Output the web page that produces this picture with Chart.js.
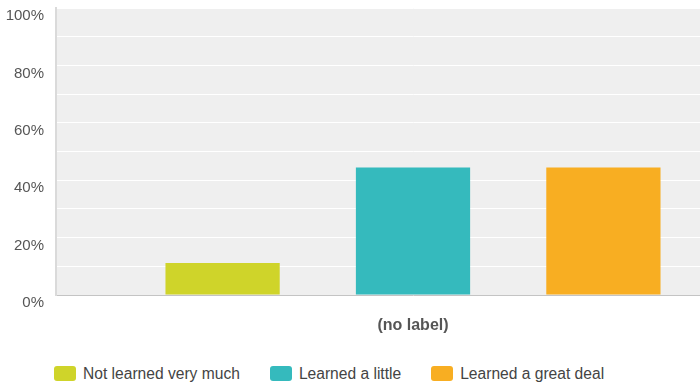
<!DOCTYPE html>
<html>
<head>
<meta charset="utf-8">
<script src="https://cdn.jsdelivr.net/npm/chart.js@4"></script>
<style>
  body { margin: 0; background: #fff; }
  #wrap { position: relative; width: 700px; height: 384px; overflow: hidden; }
  #chart { position: absolute; left: 0; top: 0; }
  #legend { position: absolute; left: 54px; top: 366px; display: flex; font: 15.6px "Liberation Sans", Arial, sans-serif; color: #444; }
  #legend .item { display: flex; align-items: center; margin-right: 30px; height: 15px; }
  #legend .box { width: 22px; height: 15px; border-radius: 3px; margin-right: 7px; }
</style>
</head>
<body>
<div id="wrap">
  <canvas id="chart"></canvas>
  <div id="legend"></div>
</div>
<script>
var categories = ["(no label)"];
var seriesNames = ["Not learned very much", "Learned a little", "Learned a great deal"];
var seriesValues = [[11.11], [44.44], [44.44]];
var seriesColors = ["#cfd42a", "#35babd", "#f8ae22"];
var yTicks = [0, 20, 40, 60, 80, 100];

// plot area background
var plotBackground = {
    id: 'plotBackground',
    beforeDraw: function(chart) {
        var ctx = chart.ctx;
        var a = chart.chartArea;
        ctx.save();
        ctx.fillStyle = '#efefef';
        ctx.fillRect(a.left, a.top, a.right - a.left, a.bottom - a.top);
        ctx.restore();
    }
};

var datasets = seriesNames.map(function(name, i) {
    return {
        label: name,
        data: seriesValues[i],
        backgroundColor: seriesColors[i],
        borderWidth: 0,
        categoryPercentage: 0.8,
        barPercentage: 0.6
    };
});

var canvas = document.getElementById('chart');
canvas.width = 770;
canvas.height = 345;
canvas.style.width = '770px';
canvas.style.height = '345px';

var myChart = new Chart(canvas.getContext('2d'), {
    type: 'bar',
    data: {
        labels: categories,
        datasets: datasets
    },
    options: {
        responsive: false,
        animation: false,
        layout: { padding: { top: 8, left: 0, right: 0, bottom: 0 } },
        plugins: {
            legend: { display: false },
            tooltip: { enabled: false }
        },
        scales: {
            x: {
                grid: { display: false },
                border: { color: '#c4c4c4', width: 1 },
                ticks: {
                    color: '#555',
                    padding: 13,
                    font: { family: 'Liberation Sans', size: 16, weight: 'bold' }
                },
                afterFit: function(scale) { scale.height = 50; }
            },
            y: {
                min: 0,
                max: 100,
                ticks: {
                    stepSize: 10,
                    color: '#555',
                    padding: 12,
                    labelOffset: 8,
                    font: { family: 'Liberation Sans', size: 15 },
                    callback: function(v) {
                        return yTicks.indexOf(v) >= 0 ? v + '%' : '';
                    }
                },
                grid: { color: '#ffffff', lineWidth: 1, drawTicks: false },
                border: { color: '#dadada', width: 2 },
                afterFit: function(scale) {
                    scale.width = 56;
                    scale.paddingTop = 0;
                    scale.paddingBottom = 0;
                }
            }
        }
    },
    plugins: [plotBackground]
});

// legend built from the same series
var legend = document.getElementById('legend');
seriesNames.forEach(function(name, i) {
    var item = document.createElement('div');
    item.className = 'item';
    var box = document.createElement('span');
    box.className = 'box';
    box.style.background = seriesColors[i];
    var text = document.createElement('span');
    text.textContent = name;
    item.appendChild(box);
    item.appendChild(text);
    legend.appendChild(item);
});
</script>
</body>
</html>
